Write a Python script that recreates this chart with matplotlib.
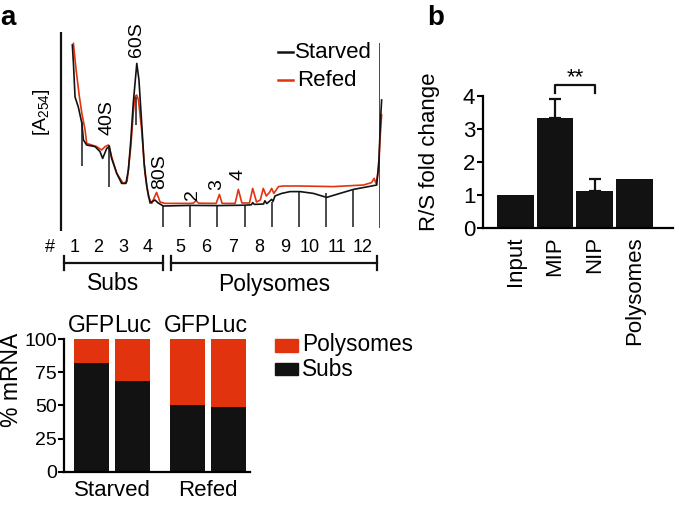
import numpy as np
import matplotlib
matplotlib.use('Agg')
import matplotlib.pyplot as plt
from matplotlib import transforms
from matplotlib.patches import Rectangle

plt.rcParams['font.family'] = ['Liberation Sans', 'DejaVu Sans']
plt.rcParams['mathtext.fontset'] = 'custom'
plt.rcParams['mathtext.rm'] = 'Liberation Sans'
plt.rcParams['mathtext.default'] = 'regular'

W, H = 675, 505
RED = '#e2330f'
BLACK = '#121212'

# --- panel a, top: A254 profile (x in fraction units, y arbitrary absorbance)
starved_x = [0.64, 0.68, 0.74, 0.86, 0.99, 1.05, 1.17, 1.48, 1.66, 1.76, 1.91, 2.01,
             2.09, 2.28, 2.46, 2.62, 2.71, 2.80, 2.89, 3.02, 3.10, 3.20, 3.29, 3.39,
             3.51, 3.69, 3.81, 4.0, 5.0, 6.0, 7.0, 7.25, 7.3, 7.36, 7.7, 7.75, 7.82,
             8.0, 8.05, 8.12, 8.37, 8.68, 9.05, 9.54, 10.03, 10.52, 11.02, 11.69,
             11.88, 11.96, 12.02, 12.06]
starved_y = [92.5, 83.5, 66.5, 61.5, 53.5, 45, 42.5, 41.7, 39.2, 35.8, 40.8, 41.7,
             35.8, 28.3, 23.3, 23.3, 30, 45, 63.5, 83.3, 75, 53.5, 33.5, 21.7,
             13.5, 15, 13.5, 12, 12.3, 12.2, 12.4, 12.6, 13.7, 12.8, 13, 14.6, 13.2,
             15.3, 14.3, 17, 18.3, 19.2, 19.2, 18.3, 16.3, 18.3, 20.3, 22,
             22.5, 35, 55, 65]
refed_x = [0.68, 0.78, 0.90, 0.99, 1.11, 1.17, 1.54, 1.72, 1.85, 1.97, 2.09, 2.28,
           2.52, 2.66, 2.80, 2.89, 2.95, 3.02, 3.08, 3.20, 3.32, 3.45, 3.57, 3.75,
           3.88, 4.06, 5.0, 5.12, 5.21, 5.3, 5.95, 6.07, 6.17, 6.65, 6.77, 6.9, 7.18,
           7.30, 7.44, 7.58, 7.69, 7.80, 7.93, 8.0, 8.08, 8.25, 8.43, 9.05, 10.28,
           11.39, 11.69, 11.78, 11.85, 11.95, 12.0, 12.06]
refed_y = [93.3, 80, 66.7, 58.5, 50, 43.3, 41.7, 40, 41.7, 42.5, 36.7, 28.3,
           23.3, 24.2, 41.7, 58.5, 66.7, 67.5, 65, 50, 28.3, 16.7, 13.3, 18.8,
           14, 13.3, 13.3, 13.5, 14.7, 13.4, 13.3, 17.8, 13.3, 13.3, 20.3, 13.5, 13.5,
           20.8, 14, 15, 20.8, 17, 19, 20.8, 18.3, 21.7, 22, 22, 21.7,
           22.5, 23.7, 25.8, 23.3, 30, 45, 57.5]

fraction_edges = [1, 2, 3, 4, 5, 6, 7, 8, 9, 10, 11, 12]
edge_top = [54, 42.5, 66.5, 12, 12.3, 12.2, 12.4, 14, 19.2, 18.5, 20.3, 93.5]
edge_bottom = [32, 21.5, 52.5, 1.5, 1.5, 1.5, 1.5, 1.5, 1.5, 1.5, 1.5, 1]
fraction_labels = [str(i) for i in range(1, 13)]

# --- panel a, bottom: % mRNA
groups = ['Starved', 'Refed']
genes = ['GFP', 'Luc', 'GFP', 'Luc']
subs_pct = [82, 68, 50, 49]
poly_pct = [100 - v for v in subs_pct]

# --- panel b
b_labels = ['Input', 'MIP', 'NIP', 'Polysomes']
b_values = [1.0, 3.32, 1.13, 1.48]
b_err = [0, 0.6, 0.35, 0]

fig = plt.figure(figsize=(6.75, 5.05), dpi=100)
px = transforms.Affine2D().scale(1.0 / W, -1.0 / H).translate(0, 1) + fig.transFigure


def add_ax(x0, x1, ybot, ytop):
    return fig.add_axes([x0 / W, 1 - ybot / H, (x1 - x0) / W, (ybot - ytop) / H])


# ================= profile =================
ax = add_ax(55, 380, 230, 30)
ax.set_xlim(0, 12)
ax.set_ylim(0, 100)
ax.axis('off')
ax.plot(refed_x, refed_y, color=RED, lw=1.2, clip_on=False)
ax.plot(starved_x, starved_y, color=BLACK, lw=1.2, clip_on=False)
ax.vlines(fraction_edges, edge_bottom, edge_top, color='#1a1a1a', lw=1.1)
ax.vlines([0.22], -0.5, 99, color=BLACK, lw=1.6, clip_on=False)

fig.text(42, 112, '[A$_{254}$]', transform=px, rotation=90, ha='center', va='center', fontsize=14)
for s, x, y in [('60S', 137, 40), ('40S', 107, 118), ('80S', 160, 172),
                ('2', 193, 195), ('3', 217, 185), ('4', 238, 175)]:
    fig.text(x, y, s, transform=px, rotation=90, ha='center', va='center', fontsize=14)

# legend
fig.add_artist(plt.Line2D([278, 293], [52, 52], color=BLACK, lw=1.8, transform=px))
fig.add_artist(plt.Line2D([278, 293], [80, 80], color=RED, lw=1.8, transform=px))
fig.text(295, 52, 'Starved', transform=px, ha='left', va='center', fontsize=16)
fig.text(297, 80, 'Refed', transform=px, ha='left', va='center', fontsize=16)

# fraction numbers
fig.text(50, 247, '#', transform=px, ha='center', va='center', fontsize=13)
num_x = [75, 98, 123, 148, 180, 206, 233, 259, 285, 310, 337, 363]
for lab, x in zip(fraction_labels, num_x):
    fig.text(x, 247, lab, transform=px, ha='center', va='center', fontsize=13)

# brackets
for x0, x1, lab in [(64, 163, 'Subs'), (171, 377, 'Polysomes')]:
    fig.add_artist(plt.Line2D([x0, x1], [263, 263], color=BLACK, lw=1.6, transform=px))
    for xe in (x0, x1):
        fig.add_artist(plt.Line2D([xe, xe], [256, 270], color=BLACK, lw=1.6, transform=px))
    fig.text((x0 + x1) / 2, 284, lab, transform=px, ha='center', va='center', fontsize=16.5)

fig.text(0.5, 25, 'a', transform=px, ha='left', va='baseline', fontsize=20, fontweight='bold')
fig.text(427, 25, 'b', transform=px, ha='left', va='baseline', fontsize=20, fontweight='bold')

# ================= stacked bars =================
ax2 = add_ax(64, 250, 471.7, 339)
pos = np.array([0, 1, 2.33, 3.33])
ax2.bar(pos, subs_pct, width=0.85, color=BLACK)
ax2.bar(pos, poly_pct, width=0.85, bottom=subs_pct, color=RED)
ax2.set_xlim(-0.68, 3.86)
ax2.set_ylim(0, 100)
for s in ['top', 'right']:
    ax2.spines[s].set_visible(False)
for s in ['left', 'bottom']:
    ax2.spines[s].set_linewidth(1.6)
ax2.spines['left'].set_bounds(0, 100)
ax2.set_xticks([])
ax2.set_yticks([0, 25, 50, 75, 100])
ax2.tick_params(axis='y', length=4, width=1.5, pad=1, labelsize=14)
for x, g in zip(pos, genes):
    ax2.text(x, 110, g, ha='center', va='center', fontsize=16.5, clip_on=False)
ax2.text(pos[:2].mean(), -14, groups[0], ha='center', va='center', fontsize=16)
ax2.text(pos[2:].mean(), -14, groups[1], ha='center', va='center', fontsize=16)
fig.text(12, 380, '% mRNA', transform=px, rotation=90, ha='center', va='center', fontsize=16.5)

fig.add_artist(Rectangle((275, 339), 23, 13, color=RED, transform=px))
fig.add_artist(Rectangle((275, 363), 23, 12, color=BLACK, transform=px))
fig.text(302, 345, 'Polysomes', transform=px, ha='left', va='center', fontsize=16.3)
fig.text(302, 369, 'Subs', transform=px, ha='left', va='center', fontsize=16.3)

# ================= panel b =================
ax3 = add_ax(483, 673, 228, 96)
bx = np.arange(len(b_values))
ax3.bar(bx, b_values, width=0.93, color=BLACK)
err = np.array(b_err)
m = err > 0
ax3.errorbar(bx[m], np.array(b_values)[m], yerr=[np.zeros(m.sum()), err[m]],
             fmt='none', ecolor=BLACK, elinewidth=1.6, capsize=4, capthick=1.6)
ax3.set_xlim(-0.82, 3.98)
ax3.set_ylim(0, 4)
for s in ['top', 'right']:
    ax3.spines[s].set_visible(False)
for s in ['left', 'bottom']:
    ax3.spines[s].set_linewidth(1.6)
ax3.spines['left'].set_bounds(0, 4)
ax3.set_yticks([0, 1, 2, 3, 4])
ax3.tick_params(axis='y', length=4, width=1.5, pad=1.5, labelsize=16)
ax3.set_xticks(bx)
ax3.set_xticklabels(b_labels, rotation=90, fontsize=16)
ax3.tick_params(axis='x', length=0, pad=6)
ax3.plot([1, 1, 2, 2], [4.09, 4.33, 4.33, 4.09], color=BLACK, lw=1.6, clip_on=False)
ax3.text(1.5, 4.55, '**', ha='center', va='center', fontsize=16, clip_on=False)
fig.text(430, 152, 'R/S fold change', transform=px, rotation=90, ha='center', va='center', fontsize=16)

fig.savefig('out.png', dpi=100)
